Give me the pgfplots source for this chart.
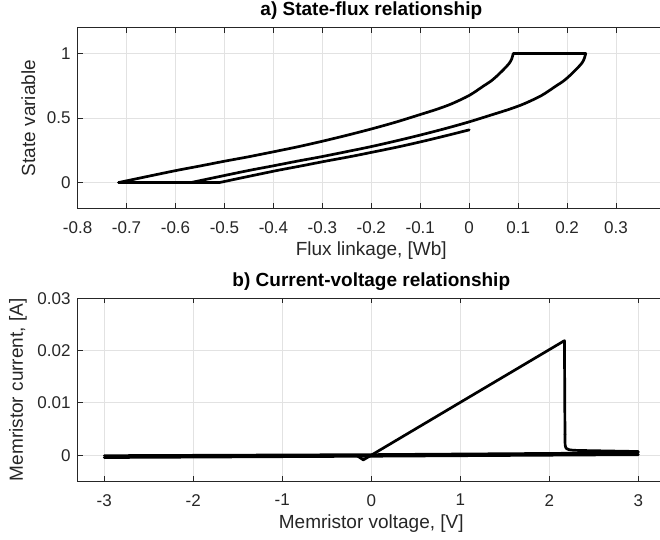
\documentclass[border=0pt]{standalone}
\usepackage{fontspec}
\setmainfont{Liberation Sans}
\usepackage{pgfplots}
\pgfplotsset{compat=1.18}
\definecolor{axgray}{HTML}{262626}
\definecolor{gridgray}{HTML}{E2E2E2}

\pgfplotsset{
 curve/.style={black, line width=2.7pt, line join=round, line cap=round, mark=none},
 mystyle/.style={
  scale only axis,
  width=587.4pt,
  axis line style={axgray, line width=0.9pt},
  every tick/.style={axgray, line width=0.9pt},
  tick align=inside,
  major tick length=5pt,
  grid=major,
  major grid style={gridgray, line width=0.9pt},
  scaled ticks=false,
  tick label style={font=\fontsize{17}{20}\selectfont, color=axgray},
  xticklabel style={yshift=-9.3pt},
  yticklabel style={xshift=-3.6pt},
  label style={font=\fontsize{19}{22}\selectfont, color=axgray},
  xlabel style={at={(axis description cs:0.5,0)}, anchor=base, yshift=-47pt},
  title style={font=\fontsize{19}{22}\selectfont\bfseries, color=black, at={(axis description cs:0.5,1)}, anchor=base, yshift=6pt},
 }}

\begin{document}
\begin{tikzpicture}
% ---------- a) State-flux relationship ----------
\begin{axis}[mystyle,
  at={(77.6pt,-208.3pt)}, anchor=south west,
  height=180.6pt,
  xmin=-0.8, xmax=0.4, ymin=-0.2, ymax=1.2,
  xtick={-0.8,-0.7,-0.6,-0.5,-0.4,-0.3,-0.2,-0.1,0,0.1,0.2,0.3},
  xticklabels={-0.8,-0.7,-0.6,-0.5,-0.4,-0.3,-0.2,-0.1,0,0.1,0.2,0.3},
  ytick={0,0.5,1}, yticklabels={0,0.5,1},
  title={a) State-flux relationship},
  xlabel={Flux linkage, [Wb]},
  ylabel={State variable},
  ylabel style={at={(axis description cs:-0.0725,0.5)}, anchor=base},
]
% initial descent from state 0.4
\addplot[curve, smooth, tension=0.5] coordinates {
 (0,0.408) (-0.044,0.366) (-0.094,0.32) (-0.144,0.277) (-0.194,0.238) (-0.244,0.2)
 (-0.294,0.165) (-0.344,0.128) (-0.394,0.092) (-0.46,0.04) (-0.51,0)
};
\addplot[curve] coordinates {(-0.51,0) (-0.716,0)};
% rising branch
\addplot[curve, smooth, tension=0.5] coordinates {
 (-0.716,0) (-0.666,0.04) (-0.6,0.092) (-0.55,0.128) (-0.5,0.165) (-0.45,0.2) (-0.4,0.238)
 (-0.35,0.277) (-0.3,0.32) (-0.25,0.366) (-0.2,0.415) (-0.15,0.468) (-0.1,0.527) (-0.066,0.568)
 (-0.036,0.61) (0,0.675) (0.03,0.75) (0.044,0.785) (0.055,0.82) (0.07,0.875) (0.082,0.925)
 (0.087,0.96) (0.09,1.0)
};
\addplot[curve] coordinates {(0.09,1.0) (0.238,1.0)};
% falling branch
\addplot[curve, smooth, tension=0.5] coordinates {
 (0.238,1.0) (0.235,0.96) (0.23,0.925) (0.218,0.875) (0.203,0.82) (0.192,0.785) (0.178,0.75)
 (0.148,0.675) (0.112,0.61) (0.082,0.568) (0.048,0.527) (-0.002,0.468) (-0.052,0.415)
 (-0.102,0.366) (-0.152,0.32) (-0.202,0.277) (-0.252,0.238) (-0.302,0.2) (-0.352,0.165)
 (-0.402,0.128) (-0.452,0.092) (-0.518,0.04) (-0.568,0)
};
\addplot[curve] coordinates {(-0.568,0) (-0.716,0)};
\end{axis}
% ---------- b) Current-voltage relationship ----------
\begin{axis}[mystyle,
  at={(77.6pt,-481.3pt)}, anchor=south west,
  height=183pt,
  xmin=-3.3, xmax=3.3, ymin=-0.005, ymax=0.03,
  xtick={-3,-2,-1,0,1,2,3}, xticklabels={-3,-2,-1,0,1,2,3},
  ytick={0,0.01,0.02,0.03}, yticklabels={0,0.01,0.02,0.03},
  title={b) Current-voltage relationship},
  xlabel={Memristor voltage, [V]},
  ylabel={Memristor current, [A]},
  ylabel style={at={(axis description cs:-0.093,0.5)}, anchor=base},
]
\addplot[curve] coordinates {(-3,-0.00045) (0,-0.0002) (3,0.0001)};
\addplot[curve] coordinates {(-3,-0.0001) (0,0.0001) (3,0.00045)};
\addplot[curve] coordinates {
 (-0.16,-0.0001) (-0.09,-0.0009) (0,0) (1,0.0101) (2.17,0.0219) (2.176,0.004)
};
\addplot[curve, smooth, tension=0.4] coordinates {
 (2.176,0.004) (2.178,0.002) (2.19,0.0013) (2.22,0.00105) (2.3,0.00092) (2.6,0.00082) (3,0.0007)
};
\end{axis}
\pgfresetboundingbox
\path[use as bounding box] (0pt,0pt) rectangle (660pt,-539pt);
\end{tikzpicture}
\end{document}
